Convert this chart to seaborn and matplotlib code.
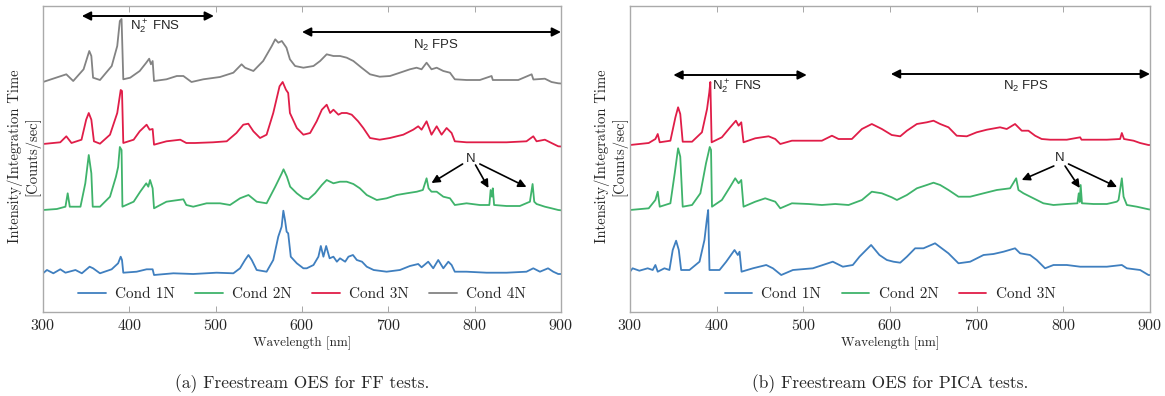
import numpy as np
import pandas as pd
import matplotlib
matplotlib.use("Agg")
import matplotlib.pyplot as plt
import seaborn as sns

# ---------------- data (relative intensity) ----------------
# Panel (a): FF tests
ff1_wl = [300, 304.6, 312, 320, 326, 337.6, 345, 354, 358, 366, 379.5, 387, 390, 391.5, 393, 408.5, 420, 427, 428.6,
          451, 474, 501, 520.5, 528.2, 534, 538, 541.8, 547.5, 559, 566.7, 572.5, 576.4, 578.4, 580.3, 582.2, 584, 587,
          594, 601.6, 605.5, 613.3, 619, 621.8, 624.8, 628, 632, 636.4, 640.4, 644, 650, 653.8, 659, 663.5, 669.5, 675,
          683, 698, 713.4, 725, 734.6, 738.5, 746.2, 752, 757.8, 763.7, 769.5, 773.3, 777, 790.6, 813.8, 836.9, 860,
          867.9, 875.6, 885, 891, 896.8, 900]
ff1_int = [-1.3, 2, -1.3, 2.7, -0.7, 2, -1.3, 5.3, 3.7, -1.3, 2.7, 8.7, 15.3, 12, -0.7, 0.3, 2.7, 2.7, -3,
           -1.3, -2, -0.7, -1.3, 3.7, 12, 17, 12, 2, 0.3, 12, 35.3, 45.3, 61.3, 52, 40.3, 38.7, 15.3,
           8.7, 3.7, 3.7, 7, 15.3, 26, 15.3, 26, 13.7, 15.3, 10.3, 13.7, 10.3, 15.3, 17, 12, 10.3, 5.3,
           2, 0.3, 2, 6, 8, 4.7, 10.3, 3.7, 12, 3.7, 10.3, 7, 0.3, 0.3, -0.7, -0.7, 0.3,
           3.7, 0.3, 3.7, 0.3, -2, -2]

ff2_wl = [300, 316, 326, 328.6, 331, 343.4, 349, 353, 356, 357.6, 366, 377.6, 384.5, 387, 389, 391, 392, 405, 412.6,
          419.6, 422, 424, 427, 428.6, 443, 451, 462.6, 466, 474, 489.5, 505, 516.6, 528.2, 538, 547.5, 559, 569,
          576.6, 578.6, 582.5, 586.3, 594, 601.6, 607.5, 615.2, 623, 628.6, 636.4, 644, 651.8, 659.5, 667, 675, 686.6,
          698, 709.7, 721.3, 733, 740, 744.3, 746.6, 750, 756, 763.7, 771.4, 777, 790.6, 806, 817, 818.5, 820, 821,
          822.5, 836.9, 852.3, 864, 867.1, 869, 871.7, 881.3, 889, 896.8, 900]
ff2_int = [0, 1, 3.3, 16.7, 3.3, 3.3, 26.7, 55, 36.7, 3.3, 3.3, 13.3, 33.3, 43, 63, 60, 3.3, 8.3, 18.3,
           26.7, 23.3, 30, 21.7, 1.7, 8.3, 9.3, 10.7, 5, 3.3, 6.7, 6.7, 5, 11.7, 15, 8.3, 6.7, 23.3,
           36.7, 40.7, 33.3, 23.3, 16.7, 11.7, 10.7, 16.7, 25, 30, 26.7, 28.3, 28.3, 26, 21.7, 15, 10,
           11.7, 15, 16.7, 18.3, 20, 31.7, 21.7, 18.3, 18.3, 13.3, 11.7, 5, 6.7, 5, 5, 20, 13.3, 21.7,
           5, 4, 4, 8.3, 26, 8.3, 6, 3.3, 1.7, 0, -0.3]

ff3_wl = [300, 320, 327, 333, 344.6, 350, 353, 356, 359, 366, 377.6, 386, 390, 391.5, 393, 405, 412, 420, 423.5, 427,
          428.6, 443, 459, 466, 476, 497, 512.8, 524, 532, 537.8, 543.7, 551.4, 559, 566.7, 574, 577.6, 581.4, 584,
          586, 594, 601.6, 609.4, 617, 623, 628.6, 632.6, 636.4, 642.2, 646, 651.8, 657.6, 665, 671, 678.8, 690,
          701.9, 717.3, 728.8, 734.6, 738.5, 744.3, 750, 756, 761.7, 767.5, 773.3, 777, 790.6, 813.8, 836.9, 860,
          867.9, 871.7, 881.3, 889, 896.8, 900]
ff3_int = [0, 1.7, 7.7, 1, 4.3, 24.3, 31, 24.3, 2.7, 0.3, 9.3, 31, 54, 53, 1, 4.3, 12.7, 19.3, 14.3, 15,
           -0.7, 2.7, 4.3, 1, 1, 1.7, 2.7, 11, 19.3, 20.3, 12.7, 6, 9.3, 31, 57.7, 62, 54.3, 51,
           31, 16, 9.3, 11, 22.7, 34.3, 39.3, 31, 34.3, 29.3, 31, 31, 29.3, 22.7, 16, 6, 4.3,
           6, 9.3, 14.3, 17.7, 14.3, 22.7, 9.3, 17.7, 9.3, 16, 11, 2.7, 1.7, 1.7, 1.7, 2.7,
           7.7, 2.7, 4.3, 1, -2.3, -2.5]

ff4_wl = [300, 327, 335, 347, 353.6, 356, 358, 366, 379.6, 386, 389, 391, 393, 401, 412, 419.6, 423, 425, 427, 428.6,
          443, 455, 462.6, 472, 485.7, 505, 520.5, 530, 534, 543.7, 555, 565, 569, 572.6, 576.6, 582, 586, 592,
          601.6, 613.3, 621, 628.6, 636.4, 644, 651.8, 659.5, 669, 678.8, 690, 701.9, 713.4, 725, 732.7, 738.5,
          744.3, 750, 756, 763.7, 771.4, 777, 790.6, 806, 819.6, 821, 835, 850.5, 866, 868, 881.3, 889, 896.8, 900]
ff4_int = [0, 7.7, 1, 12.7, 31, 26, 4.3, 2, 16, 36, 61, 63, 2.7, 4.3, 11, 19.3, 23.3, 17.7, 21, 1,
           2.7, 6, 6, 0, 2.7, 5, 9.3, 17.7, 14.3, 11, 21, 36, 42.7, 39.3, 41, 34.3, 22.7, 16,
           14.3, 16, 21, 27.7, 26, 26, 24.3, 21, 14.3, 7.7, 5.3, 6, 9.3, 12.7, 14.3, 12.7,
           19.3, 12.7, 14.3, 11, 9.3, 2.7, 2, 2, 6, 2, 2, 2, 7.7, 2.5, 3.3, 0, -1.3, -1.5]

# Panel (b): PICA tests
pica1_wl = [300, 303, 310.8, 320.4, 326.2, 329.3, 332, 339.7, 345.5, 349.3, 353.2, 356.3, 359, 368.6, 380.2, 385.9,
            388.6, 390.2, 391.7, 403.3, 411, 420.6, 424.4, 426.4, 428.7, 441.8, 457.2, 464.9, 474.5, 488, 511, 534,
            545.6, 557.1, 564.8, 578.2, 587.8, 596.4, 604, 611.8, 619.5, 629, 638.6, 652, 659.7, 667.4, 679, 692.5,
            707.9, 719.4, 731, 744.3, 750.1, 761.6, 769.3, 778.9, 788.6, 804, 819.4, 834.8, 850.2, 867.5, 873.3,
            888.6, 898.2, 900]
pica1_int = [0.3, 3.7, 1.3, 3.7, 2, 7, 0.3, 3.7, 2, 22, 31.3, 22, 2, 2, 10.3, 32,
             52, 62, 2, 2, 10.3, 22, 17, 20.3, 0.3, 3.7, 7, 3.7, -3, 2, 3.7, 10.3,
             5.3, 7, 15.3, 27, 17, 12, 10.3, 9.3, 15.3, 23.7, 23.7, 28.7, 23.7, 18.7, 8.7, 10.3,
             17, 18, 20.3, 23.7, 18.7, 17, 12, 3.7, 7, 7, 5.3, 5.3, 5.3, 7, 3.7,
             2, -3, -3]

pica2_wl = [300, 321.6, 329.3, 332, 334.3, 346.6, 351.6, 355.5, 358, 360.8, 371.6, 381.2, 387.7, 390.8, 392, 393.5,
            394.6, 406, 415.6, 421.4, 425.3, 428.4, 431, 444.5, 456, 467.6, 473.4, 486.8, 506, 521.4, 536.8, 552.2,
            567.6, 579, 590.6, 602, 608, 619.5, 631, 642.5, 650.2, 657.9, 667.5, 679, 692.5, 707.9, 723.2, 738.6,
            745.6, 748.2, 754, 765.5, 777, 788.6, 804, 816.3, 817.8, 819, 820, 821.5, 834.8, 850.2, 861.7, 863.7,
            867.5, 869.5, 873.3, 884.8, 898.2, 900]
pica2_int = [0, 1.7, 10, 18.3, 3.3, 6.7, 36.7, 61.7, 53.3, 3.3, 5, 16.7, 46.7, 58.3, 63, 60,
             3.3, 10, 23.3, 31.7, 26.7, 30, 3.3, 8.3, 11.7, 8.3, 1.7, 6.7, 6, 5, 6, 5,
             10, 18.3, 16.7, 12.7, 10, 15, 21.7, 25, 27.3, 25, 20, 13.3, 13.3, 16.7, 20, 21.7,
             31.7, 20, 16.7, 11.7, 6.7, 5, 6, 6.7, 16.7, 8, 25, 6.7, 6, 6, 8.3, 10,
             31.7, 13.3, 5, 3.3, 0.7, 0.5]

pica3_wl = [300, 321.6, 329.3, 332, 334.3, 346.6, 352.4, 355.5, 358, 360.8, 371.6, 383, 388.9, 391.5, 392.7, 394.2,
            406, 415.6, 422.2, 425.3, 428.4, 431, 444.5, 459.9, 467.6, 473.4, 486.8, 506, 521.4, 533, 540.6, 556,
            567.6, 579, 590.6, 602, 611.8, 619.5, 631, 642.5, 650.2, 657.9, 667.5, 677, 688.6, 700, 711.7, 727,
            734.7, 744.3, 752, 759.7, 767.4, 775, 784.7, 804, 819.4, 821, 834.8, 850.2, 865.5, 867.5, 870, 881,
            888.6, 898.2, 900]
pica3_int = [-1, 1, 5, 10, 1.7, 3.3, 26.7, 36.7, 30, 2.3, 2.3, 11.7, 35, 51.7, 62, 1.7,
             6.7, 16.7, 23.3, 18.3, 21.7, 1.7, 5.7, 7.7, 5, 0, 3.3, 3.3, 3.3, 8.3, 5, 5,
             15, 20, 15, 9, 7.7, 13.3, 20, 21.7, 23.3, 20, 16.7, 8.3, 7.7, 11.7, 14.3, 16.7,
             15, 20, 13.3, 13.3, 8.3, 5, 4.3, 4.3, 6.7, 4.3, 4.3, 4.3, 5, 11, 5, 3.3,
             1, -1, -1]

labels = ["Cond 1N", "Cond 2N", "Cond 3N", "Cond 4N"]
colors = ["#3f7fbf", "#3fb36b", "#e01d48", "#838383"]
offsets = [0, 62, 128, 190]

panel_a = [(ff1_wl, ff1_int), (ff2_wl, ff2_int), (ff3_wl, ff3_int), (ff4_wl, ff4_int)]
panel_b = [(pica1_wl, pica1_int), (pica2_wl, pica2_int), (pica3_wl, pica3_int)]

# ---------------- style ----------------
sns.set_style("white")
plt.rcParams["font.family"] = ["cmr10", "DejaVu Serif"]
plt.rcParams["axes.formatter.use_mathtext"] = True
plt.rcParams["mathtext.fontset"] = "custom"
plt.rcParams["mathtext.rm"] = "Liberation Sans"
plt.rcParams["mathtext.it"] = "Liberation Sans:italic"
plt.rcParams["mathtext.bf"] = "Liberation Sans:bold"

fig = plt.figure(figsize=(11.65, 3.96), dpi=100)
ax_a = fig.add_axes([43 / 1165, 1 - 312 / 396, 518 / 1165, 306 / 396])
ax_b = fig.add_axes([630 / 1165, 1 - 312 / 396, 520 / 1165, 306 / 396])

ann_font = dict(family=["Liberation Sans", "DejaVu Sans"], fontsize=9.5)
arrow_kw = dict(arrowstyle="<|-|>", color="black", lw=1.4, mutation_scale=13, shrinkA=0, shrinkB=0)
single_kw = dict(arrowstyle="-|>", color="black", lw=1.2, mutation_scale=12, shrinkA=0, shrinkB=0)


def draw(ax, series):
    for i, (wl, val) in enumerate(series):
        df = pd.DataFrame({"wl": wl, "y": np.asarray(val) + offsets[i]})
        sns.lineplot(data=df, x="wl", y="y", color=colors[i], lw=1.3, label=labels[i],
                     ax=ax, estimator=None, sort=False)
    ax.set_xlim(300, 900)
    ax.set_ylim(-40, 266)
    ax.set_xticks([300, 400, 500, 600, 700, 800, 900])
    ax.set_yticks([])
    ax.tick_params(axis="x", direction="in", length=4, width=0.6, color="#999999",
                   top=True, bottom=True, labelsize=11.5, pad=4)
    ax.tick_params(axis="y", left=False, right=False, pad=0, length=0)
    for s in ax.spines.values():
        s.set_color("#aaaaaa")
        s.set_linewidth(1.0)
    ax.set_xlabel("Wavelength [nm]", fontsize=9.5, labelpad=3)
    ax.set_ylabel("Intensity/Integration Time\n[Counts/sec]", fontsize=10.5, linespacing=1.1)
    ax.yaxis.set_label_coords(-0.005, 0.51)
    ax.legend(loc="lower center", ncol=len(series), frameon=False, fontsize=11,
              handlelength=1.8, handletextpad=0.6, columnspacing=1.35,
              bbox_to_anchor=(0.5, 0.0), borderaxespad=0.3)


draw(ax_a, panel_a)
draw(ax_b, panel_b)

# annotations panel (a)
ax_a.annotate("", xy=(345, 256), xytext=(498, 256), arrowprops=arrow_kw)
ax_a.text(430, 245, r"N$_2^+$ FNS", ha="center", va="center", **ann_font)
ax_a.annotate("", xy=(600, 240), xytext=(900, 240), arrowprops=arrow_kw, annotation_clip=False)
ax_a.text(755, 227, r"N$_2$ FPS", ha="center", va="center", **ann_font)
ax_a.text(795, 113, "N", ha="center", va="center", **ann_font)
for tail, head in [((786, 108), (750, 89)), ((801, 107), (816, 84)), ((806, 108), (860, 85))]:
    ax_a.annotate("", xy=head, xytext=tail, arrowprops=single_kw)

# annotations panel (b)
ax_b.annotate("", xy=(350, 197), xytext=(504, 197), arrowprops=arrow_kw)
ax_b.text(423, 185, r"N$_2^+$ FNS", ha="center", va="center", **ann_font)
ax_b.annotate("", xy=(601, 198), xytext=(900, 198), arrowprops=arrow_kw, annotation_clip=False)
ax_b.text(757, 186, r"N$_2$ FPS", ha="center", va="center", **ann_font)
ax_b.text(796, 114, "N", ha="center", va="center", **ann_font)
for tail, head in [((789, 106), (752, 92)), ((802, 106), (819, 84)), ((806, 108), (862, 85))]:
    ax_b.annotate("", xy=head, xytext=tail, arrowprops=single_kw)

# captions
fig.text(302 / 1165, 1 - 384 / 396, "(a) Freestream OES for FF tests.", ha="center", va="center", fontsize=12.5)
fig.text(890 / 1165, 1 - 384 / 396, "(b) Freestream OES for PICA tests.", ha="center", va="center", fontsize=12.5)

fig.savefig("out.png", dpi=100)
